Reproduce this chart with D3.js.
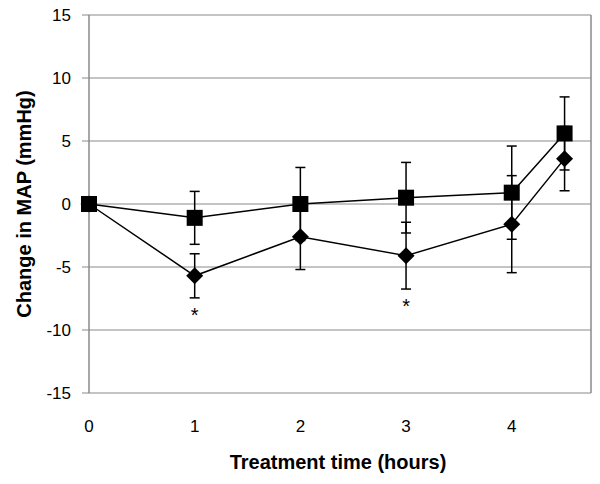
<!DOCTYPE html>
<html>
<head>
<meta charset="utf-8">
<script src="https://cdn.jsdelivr.net/npm/d3@7"></script>
<style>
  html, body { margin: 0; padding: 0; background: #fff; }
  svg { display: block; font-family: "Liberation Sans", Arial, sans-serif; }
</style>
</head>
<body>
<svg id="chart" width="600" height="484"></svg>
<script>
// ---- data ----
const times = [0, 1, 2, 3, 4, 4.5];
const squareMeans = [0, -1.1, 0, 0.5, 0.9, 5.6];
const squareErrors = [0, 2.1, 2.9, 2.8, 3.7, 2.9];
const diamondMeans = [0, -5.7, -2.6, -4.1, -1.6, 3.6];
const diamondErrors = [0, 1.75, 2.6, 2.65, 3.85, 2.55];
const significantTimes = [1, 3];
const xTickValues = [0, 1, 2, 3, 4];
const yTickValues = [-15, -10, -5, 0, 5, 10, 15];
const xTitle = "Treatment time (hours)";
const yTitle = "Change in MAP (mmHg)";

(function () {
// ---- layout ----
const svg = d3.select("#chart");
const pL = 89, pR = 591, pT = 15, pB = 393;
const x = d3.scaleLinear().domain([0, 4.75]).range([pL, pR]);
const y = d3.scaleLinear().domain([-15, 15]).range([pB, pT]);
const gridColor = "#8a8a8a";

// gridlines
svg.append("g").selectAll("line").data(yTickValues).join("line")
  .attr("x1", pL - 7).attr("x2", pR)
  .attr("y1", d => y(d)).attr("y2", d => y(d))
  .attr("stroke", gridColor).attr("stroke-width", 1.2);

// frame
svg.append("line").attr("x1", pL).attr("x2", pL).attr("y1", pT).attr("y2", pB)
  .attr("stroke", gridColor).attr("stroke-width", 1.5);
svg.append("line").attr("x1", pR).attr("x2", pR).attr("y1", pT).attr("y2", pB)
  .attr("stroke", gridColor).attr("stroke-width", 1.5);

// y tick labels
svg.append("g").selectAll("text").data(yTickValues).join("text")
  .attr("x", 71).attr("y", d => y(d)).attr("dy", "0.36em")
  .attr("text-anchor", "end").attr("font-size", 17).attr("fill", "#000")
  .text(d => d);

// x tick labels
svg.append("g").selectAll("text").data(xTickValues).join("text")
  .attr("x", d => x(d)).attr("y", 426).attr("dy", "0.36em")
  .attr("text-anchor", "middle").attr("font-size", 17).attr("fill", "#000")
  .text(d => d);

// axis titles
svg.append("text").attr("x", 338).attr("y", 462).attr("dy", "0.36em")
  .attr("text-anchor", "middle").attr("font-size", 20).attr("font-weight", "bold")
  .text(xTitle);
svg.append("text").attr("transform", `translate(24,${(pT + pB) / 2}) rotate(-90)`)
  .attr("dy", "0.36em").attr("text-anchor", "middle")
  .attr("font-size", 20).attr("font-weight", "bold")
  .text(yTitle);

function series(means, errs) {
  return times.map((t, i) => ({ t, m: means[i], e: errs[i] }));
}
const sq = series(squareMeans, squareErrors);
const dm = series(diamondMeans, diamondErrors);

const line = d3.line().x(d => x(d.t)).y(d => y(d.m));

function drawErrors(data) {
  const g = svg.append("g").attr("stroke", "#000").attr("stroke-width", 1.5);
  data.filter(d => d.e > 0).forEach(d => {
    const cx = x(d.t);
    g.append("line").attr("x1", cx).attr("x2", cx).attr("y1", y(d.m - d.e)).attr("y2", y(d.m + d.e));
    g.append("line").attr("x1", cx - 5).attr("x2", cx + 5).attr("y1", y(d.m - d.e)).attr("y2", y(d.m - d.e));
    g.append("line").attr("x1", cx - 5).attr("x2", cx + 5).attr("y1", y(d.m + d.e)).attr("y2", y(d.m + d.e));
  });
}
drawErrors(dm);
drawErrors(sq);

svg.append("path").datum(dm).attr("d", line).attr("fill", "none").attr("stroke", "#000").attr("stroke-width", 1.5);
svg.append("path").datum(sq).attr("d", line).attr("fill", "none").attr("stroke", "#000").attr("stroke-width", 1.5);

// diamonds
svg.append("g").selectAll("path").data(dm).join("path")
  .attr("d", d => {
    const cx = x(d.t), cy = y(d.m), r = 8.5;
    return `M${cx},${cy - r}L${cx + r},${cy}L${cx},${cy + r}L${cx - r},${cy}Z`;
  })
  .attr("fill", "#000");

// squares
svg.append("g").selectAll("rect").data(sq).join("rect")
  .attr("x", d => x(d.t) - 8).attr("y", d => y(d.m) - 8)
  .attr("width", 16).attr("height", 16).attr("fill", "#000");

// significance asterisks
svg.append("g").selectAll("text").data(dm.filter(d => significantTimes.includes(d.t))).join("text")
  .attr("x", d => x(d.t)).attr("y", d => y(d.m - d.e) + 24)
  .attr("text-anchor", "middle").attr("font-size", 20).attr("fill", "#000")
  .text("*");
})();
</script>
</body>
</html>
